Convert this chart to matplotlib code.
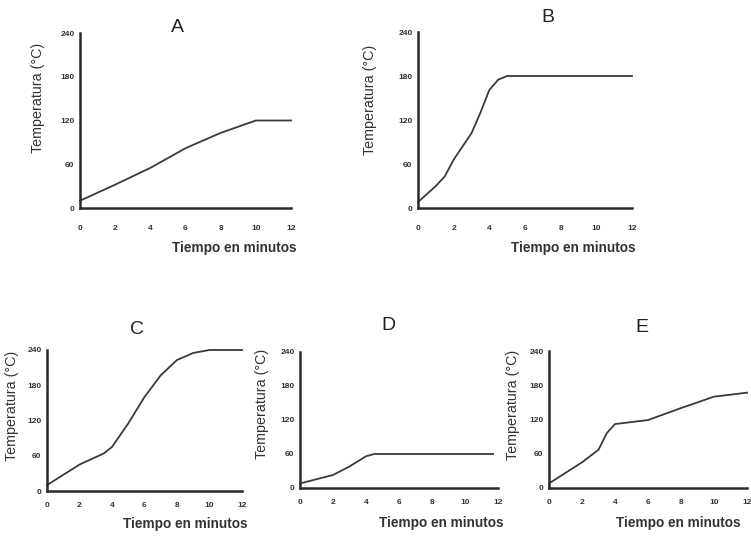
import matplotlib.pyplot as plt

plt.rcParams['font.family'] = ['Liberation Sans', 'DejaVu Sans']

W, H = 751, 539

# datos (tiempo en minutos, temperatura en °C)
tA = [0, 2, 4, 6, 8, 10, 12]
yA = [10, 32, 55, 82, 103, 120, 120]

tB = [0, 1, 1.5, 2, 3, 3.5, 4, 4.5, 5, 12]
yB = [8, 30, 43, 66, 102, 130, 161, 175, 180, 180]

tC = [0, 2, 3.5, 4, 5, 6, 7, 8, 9, 10, 12]
yC = [10, 45, 64, 75, 115, 160, 197, 223, 235, 240, 240]

tD = [0, 2, 3, 4, 4.5, 11.7]
yD = [8, 23, 38, 56, 60, 60]

tE = [0, 2, 3, 3.5, 4, 6, 8, 10, 12]
yE = [8, 45, 67, 96, 112, 119, 140, 160, 167]

xticks = [0, 2, 4, 6, 8, 10, 12]
yticks = [0, 60, 120, 180, 240]

# caja de cada grafico en pixeles: izquierda, arriba(240), derecha(12), abajo(0)
paneles = [
    ("A", tA, yA, (80, 33, 291, 208), (177, 28), (234, 248), (38, 98), 20),
    ("B", tB, yB, (418, 32, 632, 208), (548, 17), (573, 248), (370, 100), 20),
    ("C", tC, yC, (47, 350, 242, 491), (137, 330), (185, 524), (12, 406), 14),
    ("D", tD, yD, (300, 352, 498, 488), (388, 325), (441, 523), (262, 404), 14),
    ("E", tE, yE, (549, 351, 747, 488), (642, 328), (678, 523), (513, 405), 14),
]

fig = plt.figure(figsize=(W / 100, H / 100), dpi=100)
fig.patch.set_facecolor("white")

for nombre, t, y, caja, pt, px, py, pad in paneles:
    l, tp, r, b = caja
    ax = fig.add_axes([l / W, 1 - b / H, (r - l) / W, (b - tp) / H])
    ax.plot(t, y, color="#3a3a3a", linewidth=1.3, clip_on=False)
    ax.set_xlim(0, 12)
    ax.set_ylim(0, 240)
    ax.set_xticks(xticks)
    ax.set_yticks(yticks)
    ax.spines["top"].set_visible(False)
    ax.spines["right"].set_visible(False)
    for s in ("left", "bottom"):
        ax.spines[s].set_linewidth(1.8)
        ax.spines[s].set_color("#2a2a2a")
    ax.tick_params(axis="x", length=0, pad=pad * 0.72 - 2, labelsize=6, colors="#333333")
    ax.tick_params(axis="y", length=0, pad=4, labelsize=6, colors="#333333")
    for lab in ax.get_xticklabels() + ax.get_yticklabels():
        lab.set_fontweight("bold")
    fig.text(pt[0] / W, 1 - pt[1] / H, nombre, fontsize=14, ha="center", va="center", color="#222222")
    fig.text(px[0] / W, 1 - px[1] / H, "Tiempo en minutos", fontsize=9.8, fontweight="bold",
             ha="center", va="center", color="#333333")
    fig.text(py[0] / W, 1 - py[1] / H, "Temperatura (°C)", fontsize=10.3, rotation=90,
             ha="center", va="center", color="#333333")

fig.savefig("out.png", dpi=100)
